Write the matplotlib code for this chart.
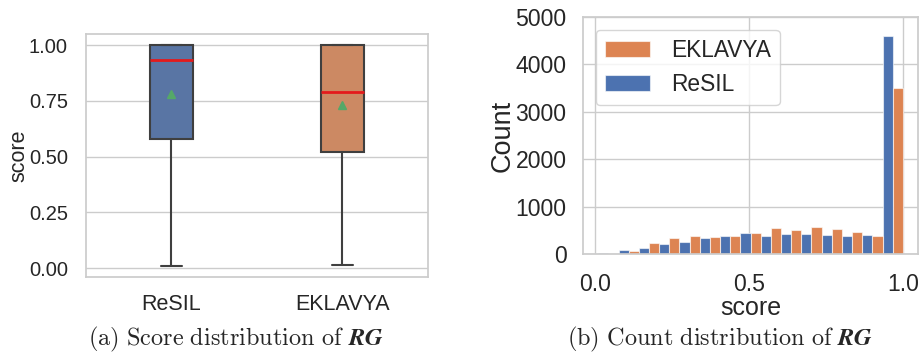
import numpy as np
import matplotlib
matplotlib.use("Agg")
import matplotlib.pyplot as plt
import seaborn as sns

# (a) box statistics
tools = ["ReSIL", "EKLAVYA"]
whislo = [0.01, 0.015]
q1 = [0.58, 0.52]
med = [0.935, 0.79]
q3 = [1.0, 1.0]
whishi = [1.0, 1.0]
means = [0.78, 0.73]

# (b) histogram counts, 15 bins between the min and max score
score_min, score_max = 0.01, 1.0
n_bins = 15
resil_counts = [15, 86, 135, 220, 257, 335, 380, 435, 380, 430, 415, 405, 390, 405, 4600]
eklavya_counts = [0, 71, 236, 330, 380, 350, 380, 450, 550, 515, 570, 535, 465, 380, 3500]

box_colors = ["#5975a4", "#cc8963"]
hist_colors = ["#4c72b0", "#dd8452"]

sns.set_theme(style="whitegrid")
plt.rcParams['font.family'] = ['Liberation Sans', 'DejaVu Sans']
plt.rcParams['mathtext.fontset'] = 'cm'

fig = plt.figure(figsize=(9.24, 3.56), dpi=100)
ax1 = fig.add_axes([0.0931, 0.2219, 0.370, 0.6826])
ax2 = fig.add_axes([0.631, 0.2865, 0.3626, 0.6657])

# ---- score distribution (box plot)
stats = []
for i in range(len(tools)):
    stats.append(dict(whislo=whislo[i], q1=q1[i], med=med[i], q3=q3[i],
                      whishi=whishi[i], mean=means[i], fliers=[], label=tools[i]))

edge = '#3f3f3f'
bp = ax1.bxp(stats, positions=[0, 1], widths=0.25, patch_artist=True,
             showmeans=True, showfliers=False,
             boxprops=dict(edgecolor=edge, linewidth=1.5),
             whiskerprops=dict(color=edge, linewidth=1.5),
             capprops=dict(color=edge, linewidth=1.5),
             medianprops=dict(color='#e41a1c', linewidth=2),
             meanprops=dict(marker='^', markerfacecolor='#55a868',
                            markeredgecolor='#55a868', markersize=6))
for patch, c in zip(bp['boxes'], box_colors):
    patch.set_facecolor(c)

ax1.set_xlim(-0.5, 1.5)
ax1.set_ylim(score_min - 0.05 * (score_max - score_min), score_max + 0.05 * (score_max - score_min))
ax1.set_yticks([0, 0.25, 0.5, 0.75, 1.0])
ax1.set_yticklabels([f"{v:.2f}" for v in [0, 0.25, 0.5, 0.75, 1.0]])
ax1.xaxis.grid(False)
ax1.tick_params(axis='y', labelsize=14.5, pad=7)
ax1.tick_params(axis='x', labelsize=15.5, pad=6)
ax1.set_ylabel("score", fontsize=15.5, labelpad=0)

# ---- count distribution (histogram, dodged)
edges = np.linspace(score_min, score_max, n_bins + 1)
mids = (edges[:-1] + edges[1:]) / 2
ax2.hist([mids, mids], bins=edges, weights=[resil_counts, eklavya_counts],
         rwidth=1.0, color=hist_colors, edgecolor=(1, 1, 1, 0.6), linewidth=0.8,
         label=["ReSIL", "EKLAVYA"])
ax2.set_ylim(0, 5000)
ax2.set_yticks(range(0, 5001, 1000))
ax2.set_xticks([0.0, 0.5, 1.0])
ax2.tick_params(axis='both', labelsize=16.6)
ax2.tick_params(axis='y', pad=6)
ax2.tick_params(axis='x', pad=8)
ax2.set_xlabel("score", fontsize=18, labelpad=0)
ax2.set_ylabel("Count", fontsize=19.5, labelpad=0)
handles, labels = ax2.get_legend_handles_labels()
ax2.legend(handles[::-1], labels[::-1], loc='upper left', fontsize=16.4,
           handlelength=2.0, handletextpad=0.9, borderaxespad=0.55)

# captions
fig.text(0.2554, 0.046, r"$\mathrm{(a)\ Score\ distribution\ of}\ \mathbfit{RG}$",
         ha='center', va='center', fontsize=17.5)
fig.text(0.779, 0.046, r"$\mathrm{(b)\ Count\ distribution\ of}\ \mathbfit{RG}$",
         ha='center', va='center', fontsize=17.5)

fig.savefig("out.png", dpi=100)
